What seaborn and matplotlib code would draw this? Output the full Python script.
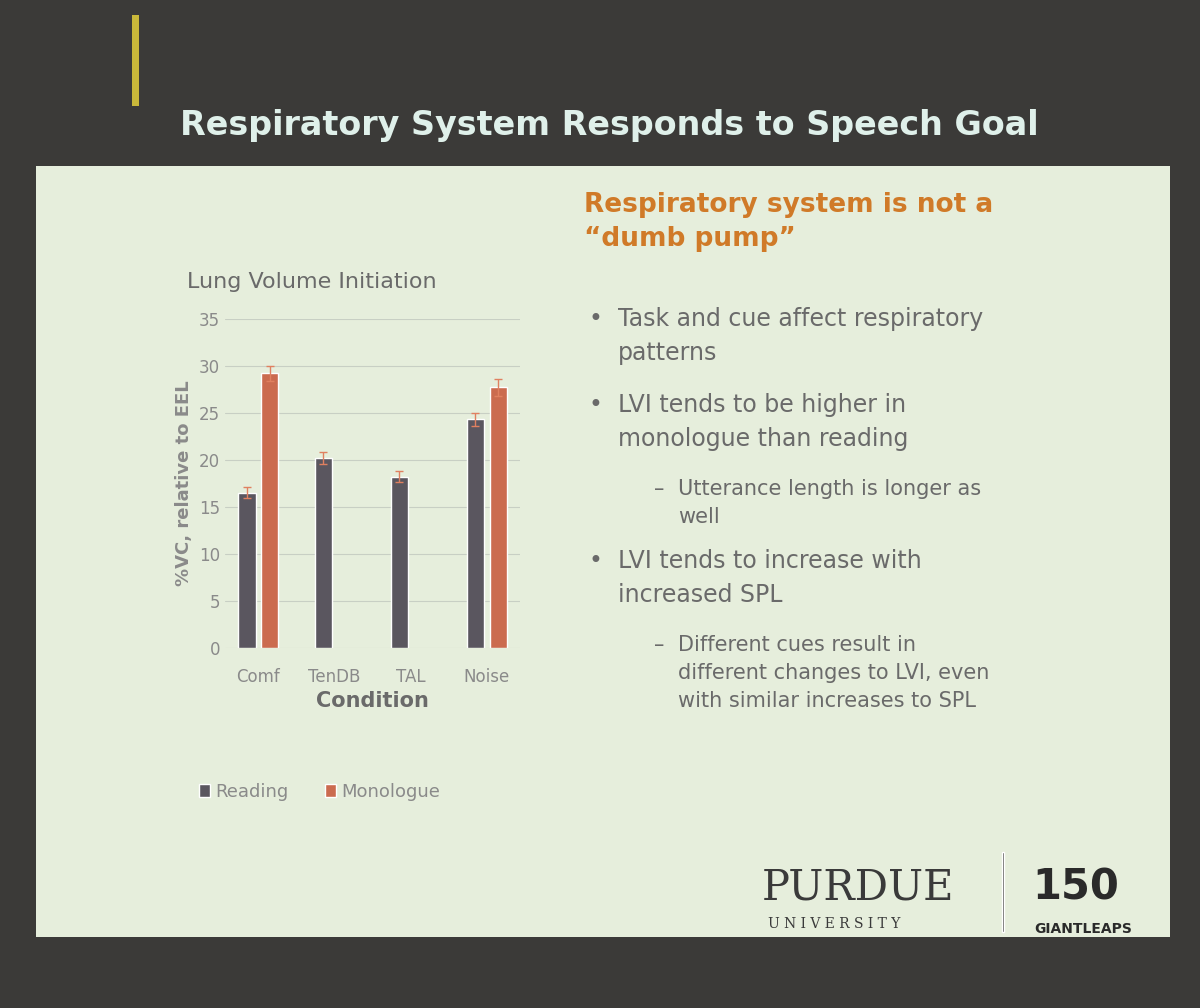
import matplotlib
matplotlib.use("Agg")
import matplotlib.pyplot as plt
import seaborn as sns
import numpy as np
import pandas as pd
from matplotlib.patches import Rectangle

conditions = ["Comf", "TenDB", "TAL", "Noise"]
reading = [16.5, 20.2, 18.2, 24.3]
monologue = [29.2, np.nan, np.nan, 27.7]
reading_err = [0.6, 0.6, 0.6, 0.7]
monologue_err = [0.8, np.nan, np.nan, 0.9]
yticks = [0, 5, 10, 15, 20, 25, 30, 35]

df = pd.DataFrame({
    "Condition": conditions * 2,
    "Value": reading + monologue,
    "Task": ["Reading"] * 4 + ["Monologue"] * 4,
})

sns.set_theme(style="white")
plt.rcParams['font.family'] = ['DejaVu Sans']
fig = plt.figure(figsize=(12, 10.08), dpi=100)
fig.patch.set_facecolor("#3b3a38")

bg = fig.add_axes([0, 0, 1, 1], zorder=0)
bg.set_xlim(0, 1); bg.set_ylim(0, 1); bg.axis("off")
bg.add_patch(Rectangle((0.03, 0.07), 0.945, 0.765, facecolor="#e6eedc", edgecolor="none"))
bg.add_patch(Rectangle((0.11, 0.895), 0.006, 0.09, facecolor="#c9b83a", edgecolor="none"))
bg.add_patch(Rectangle((0.835, 0.075), 0.0015, 0.08, facecolor="#3a3a3a"))

fig.text(0.15, 0.875, "Respiratory System Responds to Speech Goal", fontsize=24,
         fontweight="bold", color="#dff0ea", ha="left", va="center")

ax = fig.add_axes([0.1875, 0.357, 0.246, 0.327], zorder=2)
ax.set_facecolor("none")
pal = {"Reading": "#5a5560", "Monologue": "#e0603a"}
sns.barplot(data=df, x="Condition", y="Value", hue="Task", palette=pal, ax=ax,
            width=0.6, gap=0.25, legend=True)
err_sets = [reading_err, [e for e in monologue_err if not np.isnan(e)]]
for cont, errs in zip(ax.containers, err_sets):
    bars = [b for b in cont.patches if not np.isnan(b.get_height())]
    for b, e in zip(bars, errs):
        ax.errorbar(b.get_x() + b.get_width() / 2, b.get_height(), yerr=e,
                    color="#e08060", capsize=3, lw=1)
ax.set_ylim(0, 35)
ax.set_yticks(yticks)
ax.grid(axis="y", color="#c8cfc4", lw=0.8)
ax.set_axisbelow(True)
for s in ax.spines.values():
    s.set_visible(False)
ax.tick_params(colors="#8a8a8a", labelsize=12, length=0)
ax.tick_params(axis="x", pad=14)
ax.set_ylabel("%VC, relative to EEL", fontsize=13, color="#8a8a8a", fontweight="bold")
ax.set_xlabel("Condition", fontsize=15, color="#6a6a6a", fontweight="bold")
ax.set_title("Lung Volume Initiation", fontsize=16, color="#6a6a6a", loc="left", x=-0.13, pad=22)
ax.legend(loc="upper center", bbox_to_anchor=(0.32, -0.36), ncol=2, frameon=False,
          fontsize=13, labelcolor="#8a8a8a", handlelength=0.6, handletextpad=0.3)

fig.text(0.487, 0.81, "Respiratory system is not a\n\u201cdumb pump\u201d", fontsize=19,
         fontweight="bold", color="#d07a28", va="top", linespacing=1.4)
lines = [
    (0.49, 0.695, "\u2022", 0.515, "Task and cue affect respiratory\npatterns", 17),
    (0.49, 0.61, "\u2022", 0.515, "LVI tends to be higher in\nmonologue than reading", 17),
    (0.545, 0.525, "\u2013", 0.565, "Utterance length is longer as\nwell", 15),
    (0.49, 0.455, "\u2022", 0.515, "LVI tends to increase with\nincreased SPL", 17),
    (0.545, 0.37, "\u2013", 0.565, "Different cues result in\ndifferent changes to LVI, even\nwith similar increases to SPL", 15),
]
for bx, y, b, tx, t, fs in lines:
    fig.text(bx, y, b, fontsize=fs, color="#6a6a6a", va="top")
    fig.text(tx, y, t, fontsize=fs, color="#6a6a6a", va="top", linespacing=1.5)

fig.text(0.635, 0.12, "PURDUE", fontsize=30, family="DejaVu Serif", color="#3a3a3a", va="center")
fig.text(0.64, 0.083, "U N I V E R S I T Y", fontsize=10, family="DejaVu Serif", color="#3a3a3a", va="center")
fig.text(0.86, 0.12, "150", fontsize=30, fontweight="bold", color="#2a2a2a", va="center")
fig.text(0.862, 0.078, "GIANTLEAPS", fontsize=10, fontweight="bold", color="#2a2a2a", va="center")

fig.savefig("out.png", dpi=100, facecolor=fig.get_facecolor())
